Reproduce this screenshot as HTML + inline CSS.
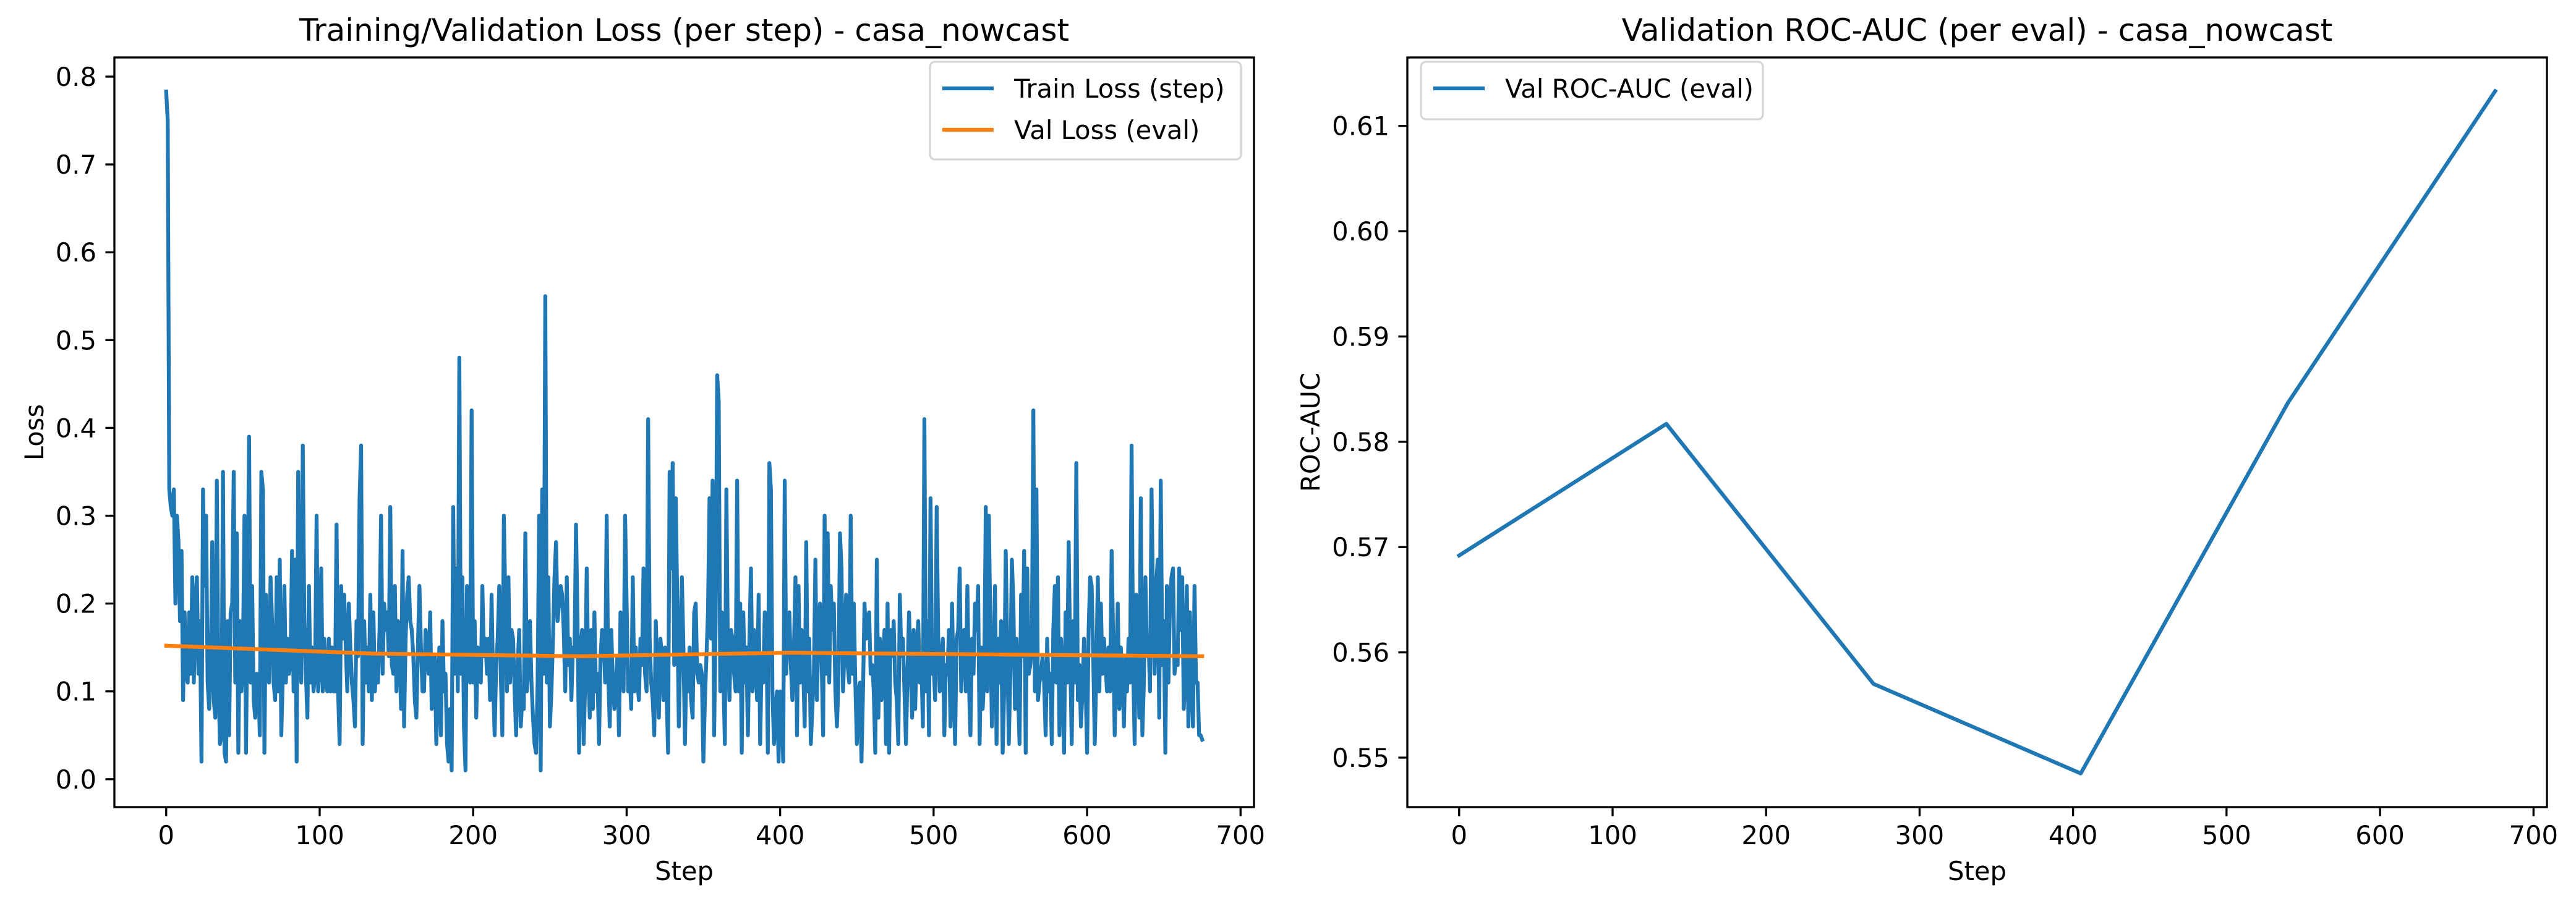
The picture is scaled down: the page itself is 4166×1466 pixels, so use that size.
<!DOCTYPE html>
<html><head><meta charset="utf-8"><style>
html,body{margin:0;padding:0;background:#fff}
svg{display:block}
text{font-family:"DejaVu Sans","Liberation Sans",sans-serif;fill:#000}
</style></head><body>
<svg id="fig" width="4166" height="1466" viewBox="0 0 4166 1466" xmlns="http://www.w3.org/2000/svg"></svg>
<script>
// ---- Data ----
const trainLossStr =
"78.3 75 33 31 30 33 20 30 27 18 26 9 19 12 11 19 12 23 11 20 " +
"23 12 18 2 33 22 30 11 8 13 27 9 7 34 12 4 5 35 3 2 " +
"18 5 19 20 35 11 28 3 18 10 14 30 3 20 39 11 22 9 7 12 " +
"11 5 35 33 3 21 13 11 23 18 11 9 23 10 25 5 12 22 11 16 " +
"12 13 26 10 25 2 35 16 11 38 18 12 7 22 11 15 10 12 30 10 " +
"13 24 10 16 11 10 16 10 15 10 10 29 10 4 22 16 21 15 10 20 " +
"15 11 9 6 18 14 32 38 4 18 11 15 10 21 9 19 10 14 11 17 " +
"30 12 20 17 19 14 31 13 12 22 10 18 15 8 26 6 16 21 23 18 " +
"17 14 9 7 15 22 15 10 10 17 15 12 19 8 11 14 4 11 15 5 " +
"18 10 12 4 2 8 1 31 12 24 10 48 12 23 6 1 22 12 11 42 " +
"11 18 7 15 12 11 22 14 16 12 16 9 21 11 5 13 16 22 12 5 " +
"30 20 10 23 11 17 16 10 5 13 17 6 9 8 28 10 13 18 11 7 " +
"4 3 11 30 1 33 12 55 11 23 6 10 16 23 27 18 20 22 21 17 " +
"10 23 13 16 9 15 14 29 18 3 15 17 4 11 24 12 7 17 8 19 " +
"10 12 4 14 17 16 11 30 12 6 17 11 8 11 14 5 19 15 10 30 " +
"20 10 12 8 23 10 15 11 9 16 13 24 12 10 41 16 11 9 5 18 " +
"12 7 16 14 9 15 10 3 35 24 36 13 32 20 6 15 23 15 4 14 " +
"10 15 9 7 19 20 12 11 13 12 2 9 14 19 32 16 34 5 18 46 " +
"43 10 19 12 4 33 14 9 17 16 12 10 34 10 20 3 19 11 15 5 " +
"16 24 10 17 13 9 21 4 14 11 19 18 3 36 33 10 4 8 10 2 " +
"10 9 2 34 12 17 19 13 9 15 23 5 22 11 17 13 6 27 10 16 " +
"4 8 12 25 9 17 20 14 5 30 12 28 11 22 17 20 10 6 11 28 " +
"24 10 15 21 13 11 30 12 20 11 4 10 11 2 10 20 16 18 19 12 " +
"13 10 3 25 7 16 9 13 17 4 20 3 17 14 18 11 9 4 21 14 " +
"16 10 4 12 19 13 7 17 8 15 18 11 14 6 41 10 18 5 32 12 " +
"13 9 31 16 10 14 16 5 13 12 17 6 20 11 4 16 17 24 10 16 " +
"17 10 22 11 5 16 12 20 17 22 4 15 8 12 31 10 30 17 6 13 " +
"22 4 16 11 18 3 10 26 15 4 12 25 20 8 16 10 4 21 14 26 " +
"3 24 12 13 15 42 10 33 9 11 12 14 11 5 16 10 12 4 17 22 " +
"11 23 5 16 12 3 19 11 27 14 4 18 11 36 9 13 6 10 16 11 " +
"3 17 23 22 14 4 12 23 10 20 12 16 13 10 15 10 26 16 5 13 " +
"20 8 15 12 6 14 10 16 11 38 13 4 21 16 7 32 5 11 23 14 " +
"16 10 33 20 12 22 25 7 34 13 18 3 22 11 20 23 24 12 14 13 " +
"24 17 23 8 12 22 6 19 11 6 22 11 11 5 5 4.5";
const trainLoss = trainLossStr.trim().split(/\s+/).map(v => +v / 100);
const evalSteps = [0, 135, 270, 405, 540, 675];
const valLoss = [0.152, 0.143, 0.140, 0.144, 0.142, 0.140];
const valAuc = [0.5692, 0.5817, 0.5570, 0.5485, 0.5837, 0.6133];
const xTicks = [0, 100, 200, 300, 400, 500, 600, 700];
const lossTicks = [0.0, 0.1, 0.2, 0.3, 0.4, 0.5, 0.6, 0.7, 0.8];
const aucTicks = [0.55, 0.56, 0.57, 0.58, 0.59, 0.60, 0.61];

const NS = "http://www.w3.org/2000/svg";
const svg = document.getElementById("fig");
function mk(tag, attrs, parent) {
  const e = document.createElementNS(NS, tag);
  for (const k in attrs) e.setAttribute(k, attrs[k]);
  (parent || svg).appendChild(e);
  return e;
}
const BLUE = "#1f77b4", ORANGE = "#ff7f0e";
const TOP = 93, BOT = 1306;
const FS = 41.7;

function axes(cfg) {
  const g = mk("g", {});
  
  
  const L = cfg.left, R = cfg.right;
  const xmin = -33.75, xmax = 708.75;
  const sx = v => L + (v - xmin) / (xmax - xmin) * (R - L);
  const sy = v => BOT - (v - cfg.ymin) / (cfg.ymax - cfg.ymin) * (BOT - TOP);
  cfg.series.forEach(s => {
    const d = s.y.map((v, i) => (i ? "L" : "M") + sx(s.x[i]).toFixed(2) + " " + sy(v).toFixed(2)).join("");
    const p = mk("path", {d: d, fill: "none", stroke: s.color, "stroke-width": 6.25, "stroke-linejoin": "round", "stroke-linecap": "square"}, g);
    
    
  });
  const fr = mk("rect", {x: L, y: TOP, width: R - L, height: BOT - TOP, fill: "none", stroke: "#000", "stroke-width": 3.33}, g);
  
  
  xTicks.forEach(t => {
    const x = sx(t);
    const tk = mk("line", {x1: x, x2: x, y1: BOT, y2: BOT + 14.6, stroke: "#000", "stroke-width": 3.33}, g);
    
    
    const tx = mk("text", {x: x, y: BOT + 60, "font-size": FS, "text-anchor": "middle"}, g);
    tx.textContent = String(t);
    
    
  });
  cfg.ticks.forEach(t => {
    const y = sy(t);
    const tk = mk("line", {x1: L - 14.6, x2: L, y1: y, y2: y, stroke: "#000", "stroke-width": 3.33}, g);
    
    
    const tx = mk("text", {x: L - 29, y: y + 15, "font-size": FS, "text-anchor": "end"}, g);
    tx.textContent = t.toFixed(cfg.dec);
    
    
  });
  const xl = mk("text", {x: (L + R) / 2, y: 1424, "font-size": FS, "text-anchor": "middle"}, g);
  xl.textContent = "Step";
  
  
  const yl = mk("text", {x: 0, y: 0, "font-size": FS, "text-anchor": "middle", transform: `translate(${cfg.ylabX},${(TOP + BOT) / 2}) rotate(-90)`}, g);
  yl.textContent = cfg.ylabel;
  
  
  const ti = mk("text", {x: (L + R) / 2, y: 66, "font-size": 50, "text-anchor": "middle"}, g);
  ti.textContent = cfg.title;
  
  
  const lg = mk("g", {}, g);
  
  
  mk("rect", {x: cfg.leg.x, y: 100, width: cfg.leg.w, height: 28 + 65 * cfg.series.length, rx: 8, fill: "#fff", "fill-opacity": 0.8, stroke: "#d6d6d6", "stroke-width": 3.3}, lg);
  cfg.series.forEach((s, i) => {
    const y = 143 + i * 67;
    const ln = mk("line", {x1: cfg.leg.x + 20, x2: cfg.leg.x + 103, y1: y, y2: y, stroke: s.color, "stroke-width": 6.25}, lg);
    
    
    const tx = mk("text", {x: cfg.leg.x + 136, y: y + 15, "font-size": FS}, lg);
    tx.textContent = s.label;
    
    
  });
}

const stepsAll = trainLoss.map((_, i) => i);
axes({
  name: "loss-chart", left: 185, right: 2028, ymin: -0.0318, ymax: 0.8218,
  ticks: lossTicks, dec: 1, ylabel: "Loss", ylabX: 70,
  title: "Training/Validation Loss (per step) - casa_nowcast",
  leg: {x: 1504, w: 503},
  series: [
    {name: "train-loss-line", label: "Train Loss (step)", color: BLUE, x: stepsAll, y: trainLoss},
    {name: "val-loss-line", label: "Val Loss (eval)", color: ORANGE, x: evalSteps, y: valLoss}
  ]
});
axes({
  name: "auc-chart", left: 2276, right: 4119, ymin: 0.5453, ymax: 0.6165,
  ticks: aucTicks, dec: 2, ylabel: "ROC-AUC", ylabX: 2134,
  title: "Validation ROC-AUC (per eval) - casa_nowcast",
  leg: {x: 2298, w: 553},
  series: [
    {name: "val-auc-line", label: "Val ROC-AUC (eval)", color: BLUE, x: evalSteps, y: valAuc}
  ]
});
</script>
</body></html>
